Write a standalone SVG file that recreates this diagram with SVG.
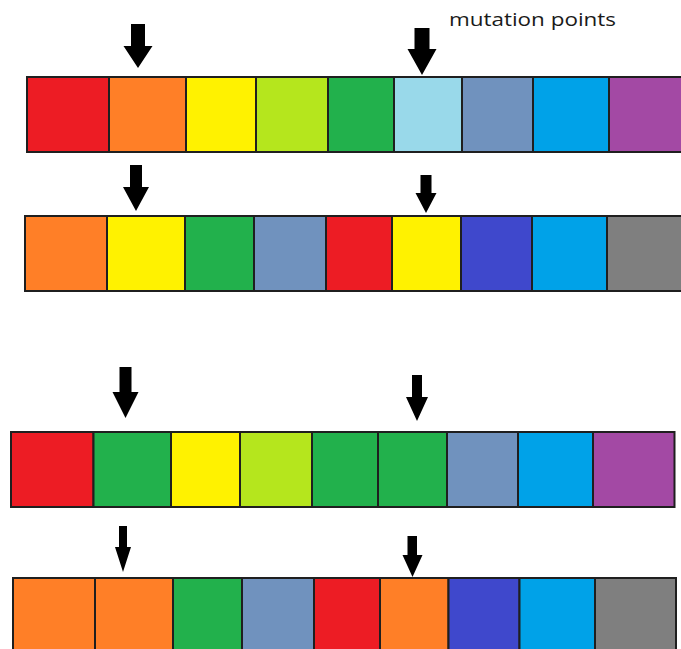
<svg xmlns="http://www.w3.org/2000/svg" width="681" height="649" viewBox="0 0 681 649">
<style>
.c{stroke:#1f1f1f;stroke-width:2}
.r{fill:#ED1C24}.o{fill:#FF7F27}.y{fill:#FFF200}.l{fill:#B5E61D}.g{fill:#22B14C}
.lb{fill:#99D9EA}.sb{fill:#7092BE}.sk{fill:#00A2E8}.p{fill:#A349A4}.i{fill:#3F48CC}.gr{fill:#7F7F7F}
.a{fill:#000}
.t{font-family:"Open Sans","DejaVu Sans",sans-serif;font-size:18px;fill:#1a1a1a}
</style>
<rect width="681" height="649" fill="#fff"/>
<g id="label"><text class="t" x="449" y="25.5" textLength="167" lengthAdjust="spacingAndGlyphs">mutation points</text></g>
<g id="row1">
<rect class="c r" x="27" y="77" width="82" height="75"/>
<rect class="c o" x="109" y="77" width="77" height="75"/>
<rect class="c y" x="186" y="77" width="70" height="75"/>
<rect class="c l" x="256" y="77" width="72" height="75"/>
<rect class="c g" x="328" y="77" width="66" height="75"/>
<rect class="c lb" x="394" y="77" width="68" height="75"/>
<rect class="c sb" x="462" y="77" width="71" height="75"/>
<rect class="c sk" x="533" y="77" width="76" height="75"/>
<rect class="c p" x="609" y="77" width="80" height="75"/>
</g>
<g id="row2">
<rect class="c o" x="25" y="216" width="82" height="75"/>
<rect class="c y" x="107" y="216" width="78" height="75"/>
<rect class="c g" x="185" y="216" width="69" height="75"/>
<rect class="c sb" x="254" y="216" width="72" height="75"/>
<rect class="c r" x="326" y="216" width="66" height="75"/>
<rect class="c y" x="392" y="216" width="69" height="75"/>
<rect class="c i" x="461" y="216" width="71" height="75"/>
<rect class="c sk" x="532" y="216" width="75" height="75"/>
<rect class="c gr" x="607" y="216" width="82" height="75"/>
</g>
<g id="row3">
<rect class="c r" x="11" y="432" width="82.5" height="75"/>
<rect class="c g" x="93.5" y="432" width="77.5" height="75"/>
<rect class="c y" x="171" y="432" width="69" height="75"/>
<rect class="c l" x="240" y="432" width="72" height="75"/>
<rect class="c g" x="312" y="432" width="66" height="75"/>
<rect class="c g" x="378" y="432" width="69" height="75"/>
<rect class="c sb" x="447" y="432" width="71" height="75"/>
<rect class="c sk" x="518" y="432" width="75" height="75"/>
<rect class="c p" x="593" y="432" width="81.5" height="75"/>
</g>
<g id="row4">
<rect class="c o" x="13" y="578" width="82" height="80"/>
<rect class="c o" x="95" y="578" width="78" height="80"/>
<rect class="c g" x="173" y="578" width="69" height="80"/>
<rect class="c sb" x="242" y="578" width="72" height="80"/>
<rect class="c r" x="314" y="578" width="66" height="80"/>
<rect class="c o" x="380" y="578" width="68.5" height="80"/>
<rect class="c i" x="448.5" y="578" width="71" height="80"/>
<rect class="c sk" x="519.5" y="578" width="75.5" height="80"/>
<rect class="c gr" x="595" y="578" width="81" height="80"/>
</g>
<g id="arrows">
<polygon class="a" points="131,24 145,24 145,46 152.5,46 138,68 123.5,46 131,46"/>
<polygon class="a" points="414.5,28 429.5,28 429.5,49 436.5,49 422,75 407.5,49 414.5,49"/>
<polygon class="a" points="130,165 142,165 142,187 149,187 136,211 123,187 130,187"/>
<polygon class="a" points="420.5,175 431.5,175 431.5,193 436.5,193 426,213 415.5,193 420.5,193"/>
<polygon class="a" points="119.5,367 131.5,367 131.5,392 138.5,392 125.5,418 112.5,392 119.5,392"/>
<polygon class="a" points="412,375 422,375 422,397 428,397 417,421 406,397 412,397"/>
<polygon class="a" points="119,526 127,526 127,547 131,547 123,572 115,547 119,547"/>
<polygon class="a" points="407.5,536 417,536 417,555 422.5,555 412.5,577 402.5,555 407.5,555"/>
</g>
</svg>
